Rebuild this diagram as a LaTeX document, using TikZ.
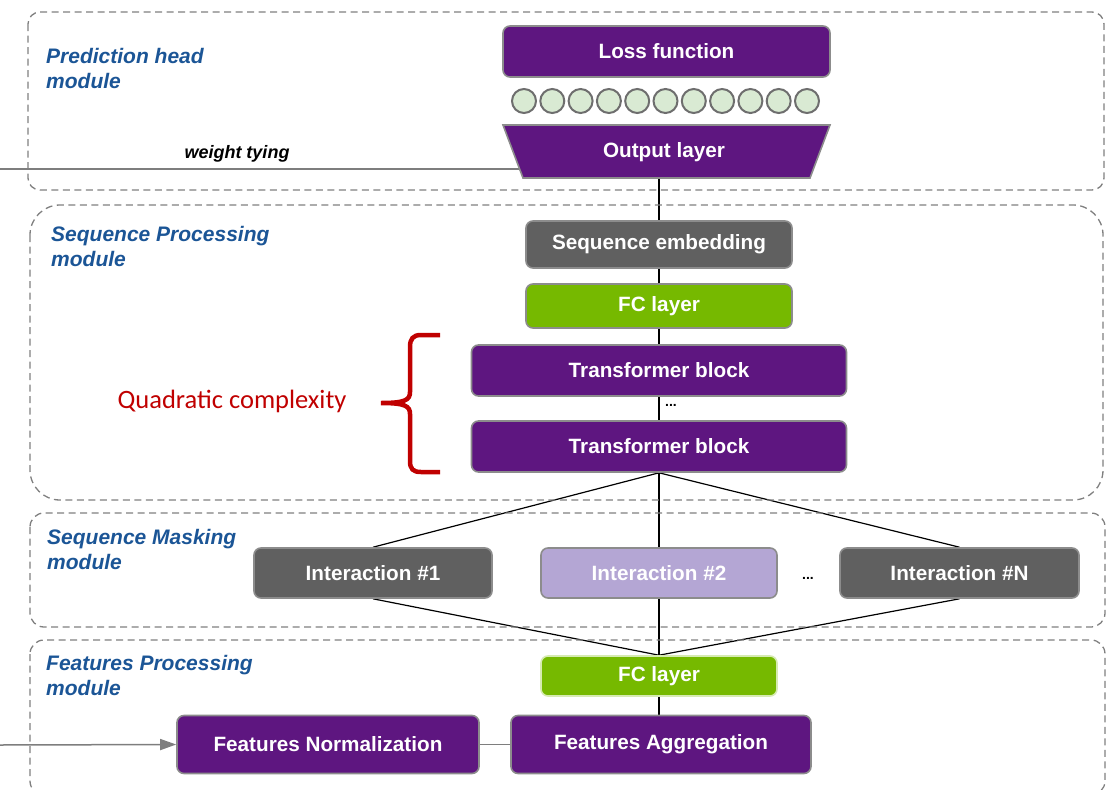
\documentclass[tikz,border=0pt]{standalone}
\usepackage{fontspec}
\setmainfont{Liberation Sans}
\newfontfamily\calib{Carlito}
\usetikzlibrary{arrows.meta,backgrounds}
\definecolor{purp}{RGB}{94,22,128}
\definecolor{dgray}{RGB}{96,96,96}
\definecolor{nvgreen}{RGB}{118,185,0}
\definecolor{lpurp}{RGB}{180,166,212}
\definecolor{bgray}{RGB}{140,140,140}
\definecolor{modblue}{RGB}{27,85,150}
\definecolor{qred}{RGB}{192,0,0}
\definecolor{cgreen}{RGB}{217,234,211}
\definecolor{cstroke}{RGB}{110,110,110}
\definecolor{dashgray}{RGB}{128,128,128}
\begin{document}
\begin{tikzpicture}[x=1pt,y=-1pt,
  blk/.style={rectangle, rounded corners=7pt, draw=bgray, line width=1.6pt, text=white,
    font=\bfseries\fontsize{20.7}{24}\selectfont, inner sep=0pt},
  purpblk/.style={blk, fill=purp},
  grayblk/.style={blk, fill=dgray},
  greenblk/.style={blk, fill=nvgreen},
  lpblk/.style={blk, fill=lpurp},
  modbox/.style={draw=dashgray, line width=1.3pt, dash pattern=on 7pt off 4.5pt},
  modlabel/.style={anchor=west, align=left, inner sep=0pt, text=modblue,
    font=\bfseries\itshape\fontsize{21}{25}\selectfont},
  conn/.style={draw=black, line width=1.2pt},
  gconn/.style={draw=bgray!90!black, line width=1.5pt},
  neuron/.style={circle, minimum size=24pt, inner sep=0pt, fill=cgreen, draw=cstroke, line width=2pt},
  dots/.style={font=\bfseries\fontsize{14}{16}\selectfont, inner sep=0pt}
]
\useasboundingbox (0,0) rectangle (1106,790);
\clip (0,0) rectangle (1106,790);

% module boxes
\draw[modbox, rounded corners=12pt] (28,12) rectangle (1104,190);
\draw[modbox, rounded corners=30pt] (30,205) rectangle (1103,500);
\draw[modbox, rounded corners=14pt] (30,513) rectangle (1105,627);
\draw[modbox, rounded corners=14pt] (30,640) rectangle (1105,795);

% module labels
\node[modlabel] (lph) at (46,68) {Prediction head\\module};
\node[modlabel] (lsp) at (51,246) {Sequence Processing\\module};
\node[modlabel] (lsm) at (47,549) {Sequence Masking\\module};
\node[modlabel] (lfp) at (46,675) {Features Processing\\module};

% prediction head
\node[purpblk, minimum width=327pt, minimum height=51pt] (loss) at (666.5,51.5) {Loss function};
\foreach \i in {0,...,10} {
  \node[neuron] (n\i) at (524+28.3*\i,101) {};
}
\path[fill=purp, draw=bgray, line width=1.6pt] (503,125) -- (830,125) -- (810,178) -- (523,178) -- cycle;
\node[minimum width=287pt, minimum height=53pt, inner sep=0pt, text=white,
  font=\bfseries\fontsize{20.7}{24}\selectfont] (out) at (664,152.5) {Output layer};
\coordinate (wtstart) at (0,169);
\node[inner sep=0pt, font=\bfseries\itshape\fontsize{18}{21}\selectfont] (wt) at (237,154) {weight tying};

% sequence processing
\node[grayblk, minimum width=266pt, minimum height=47pt] (semb) at (659,244.5) {Sequence embedding};
\node[greenblk, minimum width=266pt, minimum height=44pt] (fc1) at (659,306) {FC layer};
\node[purpblk, minimum width=375pt, minimum height=51pt] (tb1) at (659,370.5) {Transformer block};
\node[dots] (d1) at (671,405) {...};
\node[purpblk, minimum width=375pt, minimum height=51pt] (tb2) at (659,446.5) {Transformer block};

% brace and label
\draw[qred, line width=4.5pt] (440,335) -- (421,335)
  .. controls (413,335) and (410,339) .. (410,347) -- (410,392)
  .. controls (410,400) and (405,403) .. (381,403)
  .. controls (405,403) and (410,406) .. (410,414) -- (410,461)
  .. controls (410,469) and (413,472) .. (421,472) -- (440,472);
\node[inner sep=0pt, text=qred, font=\calib\fontsize{26.5}{30}\selectfont] (quad) at (232,401) {Quadratic complexity};

% sequence masking
\node[grayblk, minimum width=238pt, minimum height=50pt] (i1) at (373,573) {Interaction \#1};
\node[lpblk, minimum width=236pt, minimum height=50pt] (i2) at (659,573) {Interaction \#2};
\node[dots] (d2) at (808,578) {...};
\node[grayblk, minimum width=239pt, minimum height=50pt] (iN) at (959.5,573) {Interaction \#N};

% features processing
\node[greenblk, draw=nvgreen!30, minimum width=236pt, minimum height=40pt] (fc2) at (659,676) {FC layer};
\node[purpblk, minimum width=300pt, minimum height=58pt] (fa) at (661,744.5) {Features Aggregation};
\node[purpblk, minimum width=302pt, minimum height=58pt] (fn) at (328,744.5) {Features Normalization};
\coordinate (instart) at (0,745);

% connectors
\begin{pgfonlayer}{background}
\draw[gconn] (wtstart) -- (wtstart -| out.west);
\draw[conn] (semb.north |- out.south) -- (semb.north);
\draw[conn] (semb.south) -- (fc1.north);
\draw[conn] (fc1.south) -- (tb1.north);
\draw[conn] (tb1.south) -- (tb2.north);
\draw[conn] (tb2.south) -- (i1.north);
\draw[conn] (tb2.south) -- (i2.north);
\draw[conn] (tb2.south) -- (iN.north);
\draw[conn] (i1.south) -- (fc2.north);
\draw[conn] (i2.south) -- (fc2.north);
\draw[conn] (iN.south) -- (fc2.north);
\draw[conn, line width=1.6pt] (fc2.south) -- (fc2.south |- fa.north);
\draw[gconn] (fn.east) -- (fa.west);
\end{pgfonlayer}
\draw[gconn, -{Triangle[length=16pt,width=11pt]}] (instart) -- (fn.west);
\end{tikzpicture}
\end{document}
